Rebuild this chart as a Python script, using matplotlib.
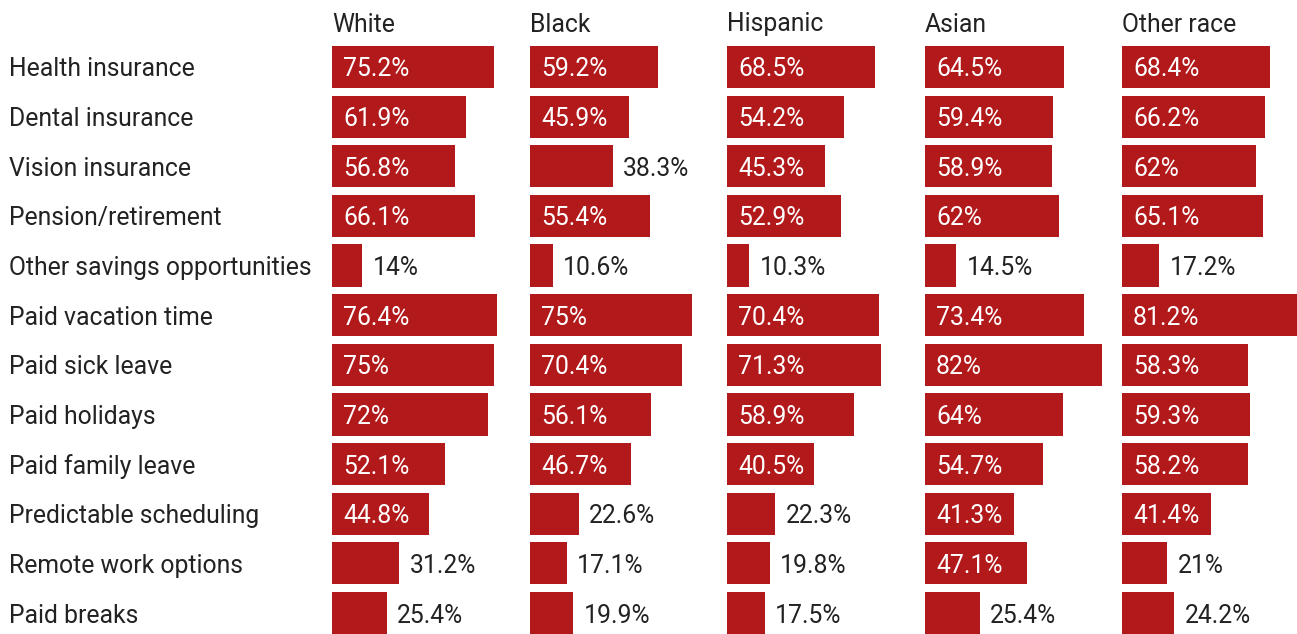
import matplotlib
matplotlib.use("Agg")
from matplotlib import pyplot as plt

plt.rcParams["font.family"] = ["Roboto", "DejaVu Sans"]

# Benefit categories (rows) and race groups (columns)
benefits = [
    "Health insurance",
    "Dental insurance",
    "Vision insurance",
    "Pension/retirement",
    "Other savings opportunities",
    "Paid vacation time",
    "Paid sick leave",
    "Paid holidays",
    "Paid family leave",
    "Predictable scheduling",
    "Remote work options",
    "Paid breaks",
]
groups = ["White", "Black", "Hispanic", "Asian", "Other race"]

# Share of workers with access to each benefit, %
white = [75.2, 61.9, 56.8, 66.1, 14, 76.4, 75, 72, 52.1, 44.8, 31.2, 25.4]
black = [59.2, 45.9, 38.3, 55.4, 10.6, 75, 70.4, 56.1, 46.7, 22.6, 17.1, 19.9]
hispanic = [68.5, 54.2, 45.3, 52.9, 10.3, 70.4, 71.3, 58.9, 40.5, 22.3, 19.8, 17.5]
asian = [64.5, 59.4, 58.9, 62, 14.5, 73.4, 82, 64, 54.7, 41.3, 47.1, 25.4]
other = [68.4, 66.2, 62, 65.1, 17.2, 81.2, 58.3, 59.3, 58.2, 41.4, 21, 24.2]

series = [white, black, hispanic, asian, other]

W, H = 1297, 634
BAR = "#b2191b"
TEXT = "#222222"
FS = 17.8

fig = plt.figure(figsize=(W / 100, H / 100), dpi=100)

col_left = [332, 530, 727, 925, 1122]
col_w = 197.5
row_h = 49.64
top = 67 - row_h / 2
px_per_pct = 2.16

for j, (name, vals) in enumerate(zip(groups, series)):
    ax = fig.add_axes([col_left[j] / W, 0, col_w / W, (H - top) / H])
    rows = range(len(vals))
    ax.barh(rows, vals, height=0.85, color=BAR, linewidth=0)
    ax.set_xlim(0, col_w / px_per_pct)
    ax.set_ylim(-0.5 + (H - top) / row_h, -0.5)
    ax.axis("off")
    for i, v in enumerate(vals):
        label = f"{v:g}%"
        if v >= 40:
            ax.annotate(label, (0, i), xytext=(8, 0), textcoords="offset points",
                        va="center_baseline", ha="left", color="white", fontsize=FS)
        else:
            ax.annotate(label, (v, i), xytext=(7.5, 0), textcoords="offset points",
                        va="center_baseline", ha="left", color=TEXT, fontsize=FS)
    fig.text(col_left[j] / W, 1 - 22 / H, name, ha="left", va="center_baseline",
             fontsize=FS, color=TEXT)

for i, b in enumerate(benefits):
    fig.text(9 / W, 1 - (67 + i * row_h) / H, b, ha="left", va="center_baseline",
             fontsize=FS, color=TEXT)

fig.savefig("out.png", dpi=100)
